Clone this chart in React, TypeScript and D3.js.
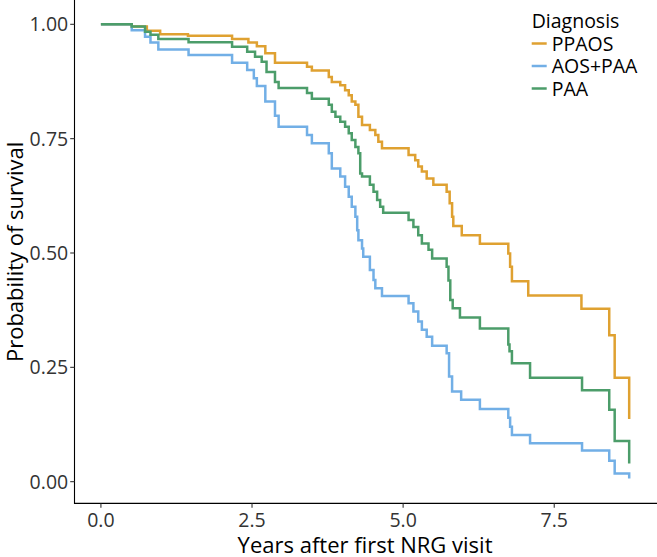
import React from "react";
import * as d3 from "d3";

// ---- data ----
const seriesNames = ["PPAOS", "AOS+PAA", "PAA"];
const seriesColors = ["#DFA131", "#72AFE6", "#4C9D6A"];

const ppaosTime = [0, 0.51, 0.76, 0.98, 1.44, 2.17, 2.44, 2.58, 2.72, 2.88, 3.41, 3.49, 3.77, 3.82, 3.96, 4.04, 4.10, 4.15, 4.21, 4.26, 4.32, 4.45, 4.54, 4.59, 4.65, 5.09, 5.20, 5.25, 5.31, 5.39, 5.50, 5.72, 5.77, 5.81, 5.83, 5.97, 6.27, 6.74, 6.77, 6.80, 7.07, 7.95, 8.41, 8.50, 8.74];
const ppaosSurv = [1, 0.995, 0.986, 0.978, 0.975, 0.968, 0.96, 0.952, 0.937, 0.916, 0.907, 0.899, 0.885, 0.874, 0.867, 0.856, 0.845, 0.831, 0.824, 0.798, 0.78, 0.769, 0.758, 0.743, 0.729, 0.714, 0.703, 0.689, 0.678, 0.663, 0.649, 0.634, 0.609, 0.579, 0.559, 0.539, 0.52, 0.499, 0.47, 0.438, 0.407, 0.378, 0.32, 0.227, 0.137];

const aosTime = [0, 0.51, 0.73, 0.82, 0.95, 1.45, 2.17, 2.42, 2.53, 2.58, 2.72, 2.88, 2.94, 3.41, 3.49, 3.77, 3.82, 3.96, 4.04, 4.10, 4.15, 4.21, 4.24, 4.26, 4.32, 4.34, 4.45, 4.51, 4.54, 4.65, 5.09, 5.17, 5.25, 5.31, 5.39, 5.48, 5.72, 5.76, 5.81, 5.96, 6.27, 6.74, 6.77, 6.80, 7.10, 7.96, 8.41, 8.50, 8.74];
const aosSurv = [1, 0.987, 0.973, 0.96, 0.945, 0.933, 0.916, 0.9, 0.882, 0.865, 0.831, 0.8, 0.776, 0.758, 0.74, 0.718, 0.685, 0.667, 0.645, 0.623, 0.601, 0.579, 0.55, 0.528, 0.51, 0.492, 0.463, 0.441, 0.423, 0.406, 0.39, 0.372, 0.35, 0.332, 0.317, 0.297, 0.281, 0.23, 0.197, 0.179, 0.159, 0.14, 0.12, 0.102, 0.084, 0.068, 0.046, 0.018, 0.007];

const paaTime = [0, 0.51, 0.73, 0.82, 0.95, 1.45, 2.17, 2.42, 2.55, 2.66, 2.74, 2.88, 2.94, 3.41, 3.49, 3.77, 3.82, 3.88, 3.96, 4.04, 4.10, 4.15, 4.21, 4.26, 4.29, 4.32, 4.45, 4.51, 4.57, 4.62, 4.67, 5.09, 5.17, 5.25, 5.31, 5.42, 5.48, 5.72, 5.75, 5.78, 5.82, 5.94, 6.27, 6.74, 6.76, 6.80, 7.10, 7.96, 8.41, 8.50, 8.74];
const paaSurv = [1, 0.995, 0.984, 0.977, 0.968, 0.961, 0.951, 0.94, 0.929, 0.918, 0.896, 0.874, 0.861, 0.85, 0.837, 0.824, 0.809, 0.798, 0.787, 0.776, 0.762, 0.747, 0.732, 0.718, 0.674, 0.667, 0.649, 0.634, 0.616, 0.601, 0.588, 0.572, 0.557, 0.539, 0.521, 0.507, 0.488, 0.47, 0.44, 0.397, 0.379, 0.359, 0.335, 0.30, 0.285, 0.259, 0.227, 0.2, 0.157, 0.089, 0.04];

const xTicks = [0, 2.5, 5, 7.5];
const yTicks = [0, 0.25, 0.5, 0.75, 1];
const xTitle = "Years after first NRG visit";
const yTitle = "Probability of survival";
const legendTitle = "Diagnosis";

const W = 657;
const H = 557;
const FONT = "'Open Sans', 'Noto Sans', sans-serif";

export default function App() {
  const left = 74.5, right = 655.6, top = 0.3, bottom = 503.4;
  const x = d3.scaleLinear().domain([-0.437, 9.177]).range([left, right]);
  const y = d3.scaleLinear().domain([-0.0475, 1.0525]).range([bottom, top]);

  const series = [
    { name: seriesNames[0], color: seriesColors[0], t: ppaosTime, s: ppaosSurv },
    { name: seriesNames[1], color: seriesColors[1], t: aosTime, s: aosSurv },
    { name: seriesNames[2], color: seriesColors[2], t: paaTime, s: paaSurv },
  ];

  const line = d3
    .line<[number, number]>()
    .x((d) => x(d[0]))
    .y((d) => y(d[1]))
    .curve(d3.curveStepAfter);

  const fx = d3.format(".1f");
  const fy = d3.format(".2f");

  const legendX = 531.7;
  const legendYs = [43.5, 66, 88.5];
  const small = 19.5;

  return (
    <svg
      width={W}
      height={H}
      style={{ position: "absolute", left: 0, top: 0, background: "#fff" }}
      fontFamily={FONT}
    >
      <rect x={0} y={0} width={W} height={H} fill="#fff" />
      {/* curves */}
      {series.map((sr) => (
        <path
          key={sr.name}
          d={line(sr.t.map((t, i) => [t, sr.s[i]] as [number, number])) || ""}
          fill="none"
          stroke={sr.color}
          strokeWidth={2.5}
          strokeLinejoin="miter"
          strokeLinecap="butt"
        />
      ))}

      {/* axes */}
      <line x1={left} x2={left} y1={0} y2={bottom + 0.5} stroke="#000" strokeWidth={1.1} />
      <line x1={left - 0.5} x2={W} y1={bottom} y2={bottom} stroke="#000" strokeWidth={1.1} />

      {yTicks.map((v) => (
        <g key={"y" + v}>
          <line x1={left - 4.3} x2={left} y1={y(v)} y2={y(v)} stroke="#333" strokeWidth={1.1} />
          <text
            x={left - 6.3}
            y={y(v)}
            dy="0.36em"
            textAnchor="end"
            fontSize={small}
            fill="#333"
          >
            {fy(v)}
          </text>
        </g>
      ))}
      {xTicks.map((v) => (
        <g key={"x" + v}>
          <line x1={x(v)} x2={x(v)} y1={bottom} y2={bottom + 4.3} stroke="#333" strokeWidth={1.1} />
          <text x={x(v)} y={527} textAnchor="middle" fontSize={small} fill="#333">
            {fx(v)}
          </text>
        </g>
      ))}

      <text x={(left + right) / 2} y={552.5} textAnchor="middle" fontSize={22} fill="#000">
        {xTitle}
      </text>
      <text
        transform={`translate(23,${(top + bottom) / 2}) rotate(-90)`}
        textAnchor="middle"
        fontSize={22}
        fill="#000"
      >
        {yTitle}
      </text>

      {/* legend */}
      <text x={legendX} y={20.5} dy="0.36em" fontSize={small} fill="#000">
        {legendTitle}
      </text>
      {series.map((sr, i) => (
        <g key={"lg" + sr.name}>
          <line
            x1={legendX}
            x2={legendX + 15}
            y1={legendYs[i]}
            y2={legendYs[i]}
            stroke={sr.color}
            strokeWidth={2.5}
          />
          <text x={legendX + 20} y={legendYs[i]} dy="0.36em" fontSize={small} fill="#000">
            {sr.name}
          </text>
        </g>
      ))}
    </svg>
  );
}
